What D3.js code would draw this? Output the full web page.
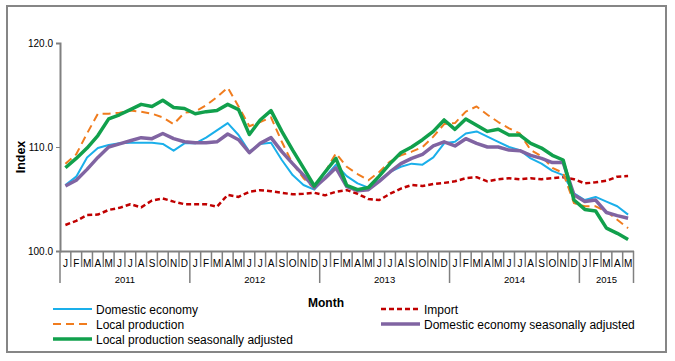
<!DOCTYPE html>
<html>
<head>
<meta charset="utf-8">
<script src="https://cdn.jsdelivr.net/npm/d3@7"></script>
<style>
  body { margin: 0; background: #fff; }
  text { font-family: "Liberation Sans", Arial, sans-serif; }
</style>
</head>
<body>
<div id="chart"></div>
<script>
// months Jan 2011 .. May 2015
var monthLetters = ["J","F","M","A","M","J","J","A","S","O","N","D"];
var years = ["2011","2012","2013","2014","2015"];
var yearMonths = [12, 12, 12, 12, 5];
var yTicks = [100, 110, 120];

var domestic = [106.35,107.15,109.0,109.9,110.2,110.35,110.4,110.4,110.4,110.3,109.65,110.35,
  110.35,110.9,111.6,112.3,111.15,109.55,110.3,110.4,108.75,107.3,106.35,105.9,
  107.1,108.3,107.2,106.5,106.1,106.8,107.6,108.1,108.4,108.3,109.0,110.35,
  110.5,111.3,111.5,111.0,110.5,110.0,109.7,108.9,108.4,107.7,107.3,105.55,
  104.9,105.2,104.75,104.3,103.5];
var localProd = [108.4,109.3,111.3,113.2,113.2,113.3,113.5,113.4,113.2,112.85,112.2,113.3,
  113.4,114.0,114.8,115.7,113.9,112.0,112.4,112.85,110.5,108.4,107.0,106.0,
  107.6,109.4,108.1,107.4,106.8,107.6,108.6,109.2,109.55,110.0,111.0,112.2,
  112.3,113.4,113.9,113.1,112.4,111.8,111.3,109.7,109.1,108.0,107.5,104.6,
  104.3,104.3,103.8,103.0,102.2];
var localSA = [108.0,108.9,109.9,111.1,112.7,113.1,113.6,114.1,113.9,114.5,113.8,113.7,
  113.2,113.4,113.5,114.1,113.6,111.2,112.6,113.5,111.5,109.7,108.0,106.25,
  107.6,108.9,106.3,105.9,106.1,107.2,108.4,109.45,110.0,110.7,111.5,112.6,
  111.7,112.7,112.1,111.5,111.7,111.15,111.15,110.35,109.9,109.2,108.75,104.9,
  104.0,103.85,102.2,101.7,101.1];
var importIdx = [102.5,102.9,103.45,103.5,103.95,104.15,104.5,104.2,104.85,105.05,104.75,104.5,
  104.5,104.5,104.25,105.4,105.2,105.7,105.85,105.75,105.6,105.45,105.5,105.6,
  105.35,105.7,105.85,105.5,105.0,104.9,105.5,106.0,106.35,106.25,106.45,106.55,
  106.7,107.0,107.1,106.7,106.9,107.0,106.9,107.0,106.9,107.0,107.1,106.9,
  106.5,106.6,106.75,107.15,107.2];
var domesticSA = [106.25,106.8,107.85,109.0,110.0,110.3,110.6,110.9,110.8,111.3,110.8,110.5,
  110.4,110.4,110.5,111.25,110.7,109.45,110.35,110.9,109.55,108.4,107.3,106.1,
  107.0,108.0,106.2,105.8,105.9,106.7,107.6,108.4,108.9,109.3,110.1,110.5,
  110.1,110.8,110.35,110.0,110.0,109.7,109.65,109.2,108.9,108.5,108.5,105.4,
  104.75,104.9,103.7,103.4,103.15];

var series = [
  {name:"Import", values:importIdx, color:"#C00000", width:2.5, dash:"5,3"},
  {name:"Domestic economy", values:domestic, color:"#1AAFEA", width:2, dash:null},
  {name:"Local production", values:localProd, color:"#F07C1E", width:2, dash:"8,5"},
  {name:"Domestic economy seasonally adjusted", values:domesticSA, color:"#8064A2", width:3.5, dash:null},
  {name:"Local production seasonally adjusted", values:localSA, color:"#11A04C", width:3.5, dash:null}
];

var W = 675, H = 361;
var plotLeft = 60, plotRight = 633.5, plotTop = 43, plotBottom = 251;

var svg = d3.select("#chart").append("svg").attr("width", W).attr("height", H);

svg.append("rect").attr("x", 7).attr("y", 6).attr("width", 659).attr("height", 346)
  .attr("fill", "#fff").attr("stroke", "#868686").attr("stroke-width", 2);

var n = domestic.length;
var x = d3.scaleBand().domain(d3.range(n)).range([plotLeft, plotRight]).padding(0);
var y = d3.scaleLinear().domain([100, 120]).range([plotBottom, plotTop]);

// y axis
var yAxis = svg.append("g").attr("transform", "translate(" + plotLeft + ",0)")
  .call(d3.axisLeft(y).tickValues(yTicks).tickSize(4).tickFormat(d3.format(".1f")));
yAxis.select(".domain").attr("stroke", "#808080").attr("stroke-width", 2);
yAxis.selectAll(".tick line").attr("stroke", "#808080").attr("stroke-width", 1);
yAxis.selectAll("text").attr("font-size", "10px").attr("fill", "#000")
  .attr("font-family", "Liberation Sans, Arial, sans-serif").attr("x", -7);

// x axis: month letters
var xAxis = svg.append("g").attr("transform", "translate(0," + plotBottom + ")")
  .call(d3.axisBottom(x).tickSize(0).tickFormat(function(d){ return monthLetters[d % 12]; }));
xAxis.select(".domain").attr("stroke", "#808080").attr("stroke-width", 2);
xAxis.selectAll("text").attr("font-size", "10px").attr("fill", "#000")
  .attr("font-family", "Liberation Sans, Arial, sans-serif").attr("dy", 0).attr("y", 16);

// month separators
var edges = d3.range(n + 1);
var yearStarts = [0];
yearMonths.forEach(function(m, i){ yearStarts.push(yearStarts[i] + m); });
svg.append("g").selectAll("line").data(edges).enter().append("line")
  .attr("x1", function(d){ return d < n ? x(d) : plotRight; })
  .attr("x2", function(d){ return d < n ? x(d) : plotRight; })
  .attr("y1", plotBottom)
  .attr("y2", function(d){ return yearStarts.indexOf(d) >= 0 ? 283 : 267; })
  .attr("stroke", "#808080").attr("stroke-width", 1.5);

// year labels
svg.append("g").selectAll("text").data(years).enter().append("text")
  .attr("x", function(d, i){
    var a = x(yearStarts[i]);
    var b = yearStarts[i + 1] < n ? x(yearStarts[i + 1]) : plotRight;
    return (a + b) / 2;
  })
  .attr("y", 283).attr("text-anchor", "middle").attr("font-size", "9.5px").text(function(d){ return d; });

// axis titles
svg.append("text").attr("x", 326).attr("y", 307).attr("text-anchor", "middle")
  .attr("font-size", "12px").attr("font-weight", "bold").text("Month");
svg.append("text").attr("transform", "translate(25,157) rotate(-90)").attr("text-anchor", "middle")
  .attr("font-size", "12.5px").attr("font-weight", "bold").text("Index");

// lines
var line = d3.line()
  .x(function(d, i){ return x(i) + x.bandwidth() / 2; })
  .y(function(d){ return y(d); });

svg.append("g").selectAll("path").data(series).enter().append("path")
  .attr("d", function(d){ return line(d.values); })
  .attr("fill", "none")
  .attr("stroke", function(d){ return d.color; })
  .attr("stroke-width", function(d){ return d.width; })
  .attr("stroke-dasharray", function(d){ return d.dash; })
  .attr("stroke-linejoin", "round");

// legend
var legendPos = {
  "Domestic economy": [53, 309],
  "Local production": [53, 324],
  "Local production seasonally adjusted": [53, 339],
  "Import": [381, 309],
  "Domestic economy seasonally adjusted": [381, 324]
};
var lg = svg.append("g").selectAll("g").data(series).enter().append("g")
  .attr("transform", function(d){ return "translate(" + legendPos[d.name][0] + "," + legendPos[d.name][1] + ")"; });
lg.append("line").attr("x1", 0).attr("x2", 39).attr("y1", 0).attr("y2", 0)
  .attr("stroke", function(d){ return d.color; })
  .attr("stroke-width", function(d){ return d.width; })
  .attr("stroke-dasharray", function(d){ return d.dash; });
lg.append("text").attr("x", 43).attr("y", 4.5).attr("font-size", "12px").text(function(d){ return d.name; });
</script>
</body>
</html>
